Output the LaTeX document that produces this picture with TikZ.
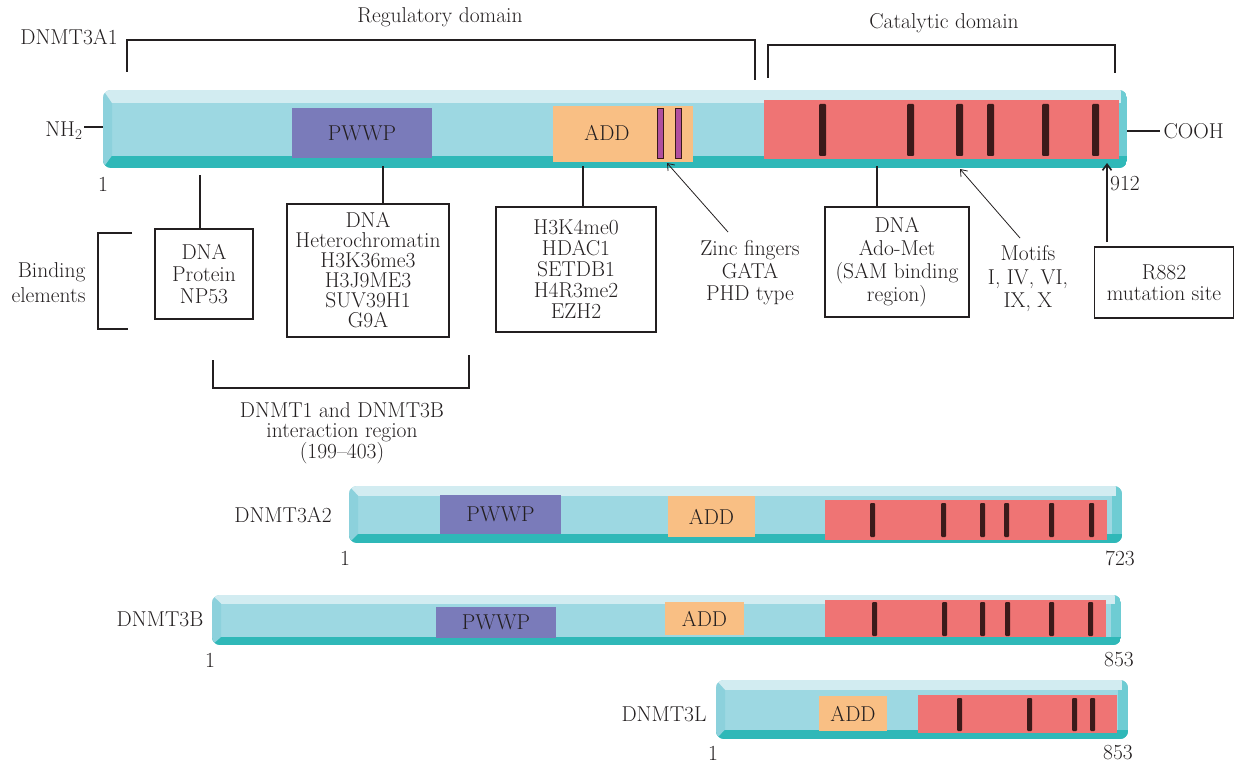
\documentclass[tikz,border=0pt]{standalone}
\usepackage{fontspec}
\usetikzlibrary{arrows.meta}

\definecolor{barmid}{HTML}{9DD8E2}
\definecolor{bartop}{HTML}{D2ECF1}
\definecolor{barbot}{HTML}{2FB8B8}
\definecolor{barend}{HTML}{6ECCD3}
\definecolor{barleft}{HTML}{8CD1DC}
\definecolor{pwwpcol}{HTML}{7A7BBA}
\definecolor{addcol}{HTML}{F9BF84}
\definecolor{catcol}{HTML}{EF7474}
\definecolor{motifcol}{HTML}{3B1A1A}
\definecolor{zinccol}{HTML}{B04F9F}
\definecolor{inkcol}{HTML}{231F20}

\newcommand{\lbl}{\fontsize{21.5}{22}\selectfont}
\newcommand{\lbltight}{\fontsize{21.5}{20}\selectfont}

% protein bar: name, x1, y1, x2, y2
\newcommand{\protbar}[5]{%
  \pgfmathsetmacro{\barT}{#3+0.17*(#5-#3)}%
  \pgfmathsetmacro{\barB}{#5-0.16*(#5-#3)}%
  \begin{scope}
    \clip[rounded corners=8pt] (#2,#3) rectangle (#4,#5);
    \fill[barmid] (#2,#3) rectangle (#4,#5);
    \fill[barend] (#4-10,#3) rectangle (#4,#5);
    \fill[bartop] (#2,#3) rectangle (#4-6,\barT);
    \fill[barbot] (#2,\barB) rectangle (#4,#5);
    \fill[barleft] (#2,#3) -- (#2+9,\barT) -- (#2+9,\barB) -- (#2,#5) -- cycle;
  \end{scope}
  \node[inner sep=0pt, minimum width={(#4-#2)*1pt}, minimum height={(#5-#3)*1pt}] (#1) at ({(#2+#4)/2},{(#3+#5)/2}) {};
}

\tikzset{
  every node/.style={font=\lbl, text=inkcol},
  dom/.style={inner sep=0pt},
  pwwpbox/.style={dom, fill=pwwpcol},
  addbox/.style={dom, fill=addcol},
  catbox/.style={dom, fill=catcol},
  infobox/.style={draw=inkcol, line width=1.2pt, align=center, inner sep=2pt},
  link/.style={draw=inkcol, line width=1.8pt},
  endline/.style={draw=inkcol, line width=1.1pt},
  bracket/.style={draw=inkcol, line width=1.8pt},
  arr/.style={draw=inkcol, line width=0.8pt, -{Straight Barb[length=6pt,width=9pt]}},
}

\begin{document}
\begin{tikzpicture}[x=1pt,y=-1pt]
\useasboundingbox (0,0) rectangle (1234,765);

% DNMT3A1
\node (reg) at (440,17) {Regulatory domain};
\node (catlbl) at (944,23) {Catalytic domain};
\node (a1) at (69,37) {DNMT3A1};
\draw[bracket] (127,72) -- (127,40) -- (755,40) -- (755,80);
\draw[bracket] (768,78) -- (768,45) -- (1115,45) -- (1115,73);

\protbar{bar1}{103}{90}{1127}{168}
\node[pwwpbox, minimum width=140pt, minimum height=50pt] (pwwp1) at (362,133) {PWWP};
\node[addbox, minimum width=140pt, minimum height=56pt] (add1) at (623,134) {};
\node (addlbl1) at (607,133) {ADD};
\foreach \x in {657,675}
  \filldraw[fill=zinccol, draw=motifcol, line width=0.6pt] (\x,108) rectangle (\x+6,158);
\node[catbox, minimum width=355pt, minimum height=59pt] (cat1) at (941.5,129.5) {};
\foreach \x in {819,907,956,987,1042,1092}
  \fill[motifcol, rounded corners=1pt] (\x,104) rectangle (\x+7,156);

\node[anchor=east] (nh2) at (86,131) {NH\textsubscript{2}};
\coordinate (nhend) at (84,127);
\draw[endline] (nhend) -- (nhend -| bar1.west);
\node[anchor=west] (cooh) at (1160,131) {COOH};
\draw[endline] (cooh.west -| bar1.east) -- (cooh.west);
\node (s1) at (103,184) {1};
\node (e1) at (1125,184) {912};

% binding elements
\node[anchor=east, align=right, font=\fontsize{21.5}{25}\selectfont] (bind) at (89,283) {Binding\\elements};
\draw[bracket] (132,233) -- (98,233) -- (98,329) -- (128,329);

\node[infobox, minimum width=98pt, minimum height=90pt] (box1) at (204,274) {DNA\\Protein\\NP53};
\node[infobox, font=\lbltight, minimum width=162pt, minimum height=133pt] (box2) at (368,270.5) {DNA\\Heterochromatin\\H3K36me3\\H3J9ME3\\SUV39H1\\G9A};
\node[infobox, font=\fontsize{21.5}{21}\selectfont, minimum width=160pt, minimum height=125pt] (box3) at (576,269.5) {H3K4me0\\HDAC1\\SETDB1\\H4R3me2\\EZH2};
\node[infobox, font=\fontsize{21.5}{23}\selectfont, minimum width=144pt, minimum height=110pt] (box4) at (897,262) {DNA\\Ado-Met\\(SAM binding\\region)};
\node[infobox, font=\fontsize{21.5}{21}\selectfont, minimum width=139pt, minimum height=71pt] (r882) at (1164,282.5) {R882\\mutation site};

\coordinate (dnafoot) at (200,175);
\coordinate (pwwpfoot) at (383,166);
\coordinate (addfoot) at (583,166);
\coordinate (catfoot) at (877,166);
\draw[link] (dnafoot) -- (dnafoot |- box1.north);
\draw[link] (pwwpfoot) -- (pwwpfoot |- box2.north);
\draw[link] (addfoot) -- (addfoot |- box3.north);
\draw[link] (catfoot) -- (catfoot |- box4.north);

\node[align=center, font=\fontsize{21.5}{22.5}\selectfont] (zinc) at (750,273) {Zinc fingers\\GATA\\PHD type};
\node[align=center, font=\fontsize{21.5}{23.5}\selectfont] (motifs) at (1028,279) {Motifs\\I, IV, VI,\\IX, X};
\coordinate (zinctip) at (667,163);
\coordinate (zincfoot) at (728,232);
\coordinate (motiftip) at (960,169);
\coordinate (motiffoot) at (1020,238);
\coordinate (r882tip) at (1107,163);
\coordinate (r882foot) at (1107,242);
\draw[arr] (zincfoot) -- (zinctip);
\draw[arr] (motiffoot) -- (motiftip);
\draw[arr, line width=1.6pt] (r882foot) -- (r882tip);

% interaction region
\draw[bracket] (213,360) -- (213,388) -- (469,388) -- (469,355);
\node[align=center, font=\fontsize{21.5}{20.5}\selectfont] (inter) at (342,433) {DNMT1 and DNMT3B\\interaction region\\(199--403)};

% DNMT3A2
\node (a2) at (283,515) {DNMT3A2};
\protbar{bar2}{349}{486}{1122}{543}
\node[pwwpbox, minimum width=121pt, minimum height=39pt] (pwwp2) at (500.5,514.5) {PWWP};
\node[addbox, minimum width=87pt, minimum height=41pt] (add2) at (711.5,516.5) {ADD};
\node[catbox, minimum width=282pt, minimum height=40pt] (cat2) at (966,520) {};
\foreach \x in {870,941,980,1004,1049,1089}
  \fill[motifcol, rounded corners=1pt] (\x,503) rectangle (\x+5,537);
\node (s2) at (345,558) {1};
\node (e2) at (1120,558) {723};

% DNMT3B
\node (b3) at (160,619) {DNMT3B};
\protbar{bar3}{212}{595}{1121}{645}
\node[pwwpbox, minimum width=120pt, minimum height=31pt] (pwwp3) at (496,622.5) {PWWP};
\node[addbox, minimum width=79pt, minimum height=33pt] (add3) at (704.5,618.5) {ADD};
\node[catbox, minimum width=281pt, minimum height=37pt] (cat3) at (965.5,618.5) {};
\foreach \x in {872,942,980,1005,1049,1088}
  \fill[motifcol, rounded corners=1pt] (\x,602) rectangle (\x+5,636);
\node (s3) at (210,660) {1};
\node (e3) at (1119,660) {853};

% DNMT3L
\node (l3) at (664,714) {DNMT3L};
\protbar{bar4}{716}{680}{1128}{739}
\node[addbox, minimum width=68pt, minimum height=35pt] (add4) at (853,713.5) {ADD};
\node[catbox, minimum width=199pt, minimum height=38pt] (cat4) at (1017.5,714) {};
\foreach \x in {957,1027,1072,1090}
  \fill[motifcol, rounded corners=1pt] (\x,698) rectangle (\x+5,731);
\node (s4) at (713,753) {1};
\node (e4) at (1118,753) {853};

\end{tikzpicture}
\end{document}
